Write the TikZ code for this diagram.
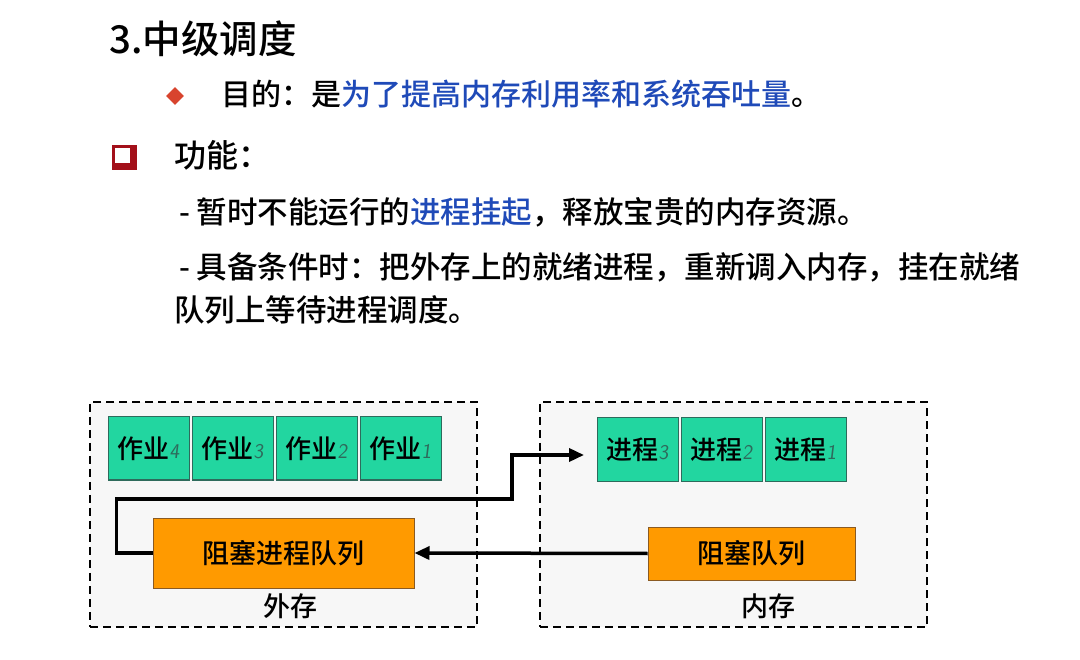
\documentclass[tikz,border=0pt]{standalone}
\usepackage{fontspec}
\setmainfont{Noto Sans CJK SC}[BoldFont={Noto Sans CJK SC Medium}]
\newfontfamily\handfont{Latin Modern Sans}[FakeSlant=0.12]
\usepackage{tikz}
\usetikzlibrary{arrows.meta,shapes.geometric,positioning}

\definecolor{jobgreen}{HTML}{22D6A0}
\definecolor{jobedge}{HTML}{2E6B5C}
\definecolor{queueorange}{HTML}{FF9A00}
\definecolor{queueedge}{HTML}{8A5A22}
\definecolor{textblue}{HTML}{1F4AB8}
\definecolor{bulletred}{HTML}{D8442E}
\definecolor{boxred}{HTML}{A3101A}
\definecolor{areagray}{HTML}{F7F7F7}

\newcommand{\fs}[1]{\fontsize{#1}{#1}\selectfont}
\newcommand{\handnum}[1]{{\handfont\mdseries\fs{21}\color{jobedge}#1}}

\begin{document}
\begin{tikzpicture}[x=1pt,y=-1pt,node distance=2pt,font=\bfseries,
    memarea/.style={draw,dashed,dash pattern=on 8pt off 5pt,line width=1.5pt,fill=areagray,
        minimum width=387pt,minimum height=225pt},
    jobbox/.style={draw=jobedge,line width=1pt,fill=jobgreen,minimum width=81pt,minimum height=63pt,
        inner sep=0pt,font=\bfseries\fs{26}},
    queuebox/.style={draw=queueedge,line width=1pt,fill=queueorange,inner sep=0pt,font=\bfseries\fs{27}},
    thickline/.style={line width=3.5pt,-{Triangle[length=15pt,width=13pt]}},
    txt/.style={anchor=base west,inner sep=0pt}]
\useasboundingbox (0,0) rectangle (1080,660);

% text part
\node[txt,font=\bfseries\fs{38.5}] (title) at (109,54) {3.中级调度};
\node[diamond,fill=bulletred,minimum size=18pt,inner sep=0pt] (dia) at (175,96) {};
\node[txt,font=\bfseries\fs{30}] (goal) at (221,106) {目的：是\textcolor{textblue}{为了提高内存利用率和系统吞吐量}。};
\node[fill=boxred,minimum size=25pt,inner sep=0pt] (sq) at (124,158) {};
\node[fill=white,minimum size=15pt,inner sep=0pt] (sqin) at (122,155.5) {};
\node[txt,font=\bfseries\fs{32}] (func) at (174,168) {功能：};
\node[txt,font=\bfseries\fs{30.5}] (line1) at (179,224) {- 暂时不能运行的\textcolor{textblue}{进程挂起}，释放宝贵的内存资源。};
\node[txt,font=\bfseries\fs{30.5}] (line2) at (179,279) {- 具备条件时：把外存上的就绪进程，重新调入内存，挂在就绪};
\node[txt,font=\bfseries\fs{30.5}] (line3) at (174,322) {队列上等待进程调度。};

% storage areas
\node[memarea] (ext) at (283.5,514.5) {};
\node[memarea] (mem) at (733.5,514.5) {};

\node[jobbox] (job4) at (148.5,448.5) {作业\handnum{4}};
\node[jobbox,right=of job4] (job3) {作业\handnum{3}};
\node[jobbox,right=of job3] (job2) {作业\handnum{2}};
\node[jobbox,right=of job2] (job1) {作业\handnum{1}};

\node[jobbox] (proc3) at (637.5,449.5) {进程\handnum{3}};
\node[jobbox,right=of proc3] (proc2) {进程\handnum{2}};
\node[jobbox,right=of proc2] (proc1) {进程\handnum{1}};

\node[queuebox,minimum width=261pt,minimum height=70pt] (blockext) at (283.5,553) {阻塞进程队列};
\node[queuebox,minimum width=207pt,minimum height=53pt] (blockmem) at (751.5,553.5) {阻塞队列};

\node[font=\bfseries\fs{27}] (extlabel) at (290,606) {外存};
\node[font=\bfseries\fs{27}] (memlabel) at (768,606) {内存};

% connectors
\coordinate (entry) at (584,455);
\draw[thickline] (blockmem.west) -- (blockext.east);
\draw[thickline] (blockext.west) -- ++(-36,0) |- (512,499) |- (entry);
\end{tikzpicture}
\end{document}
